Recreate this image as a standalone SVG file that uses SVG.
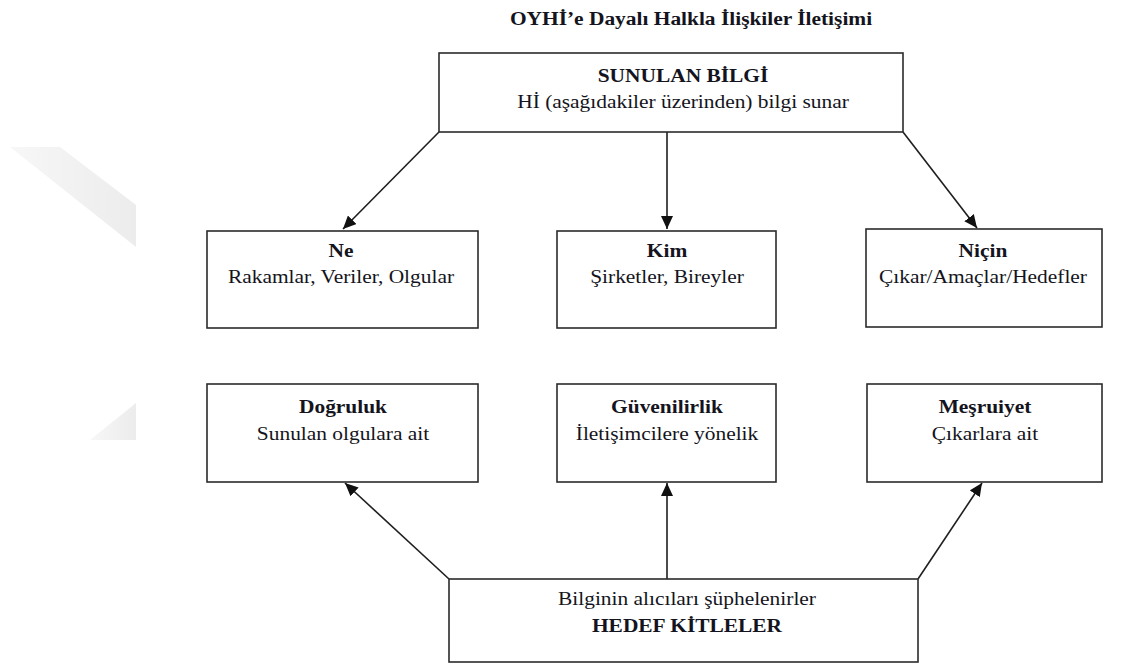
<svg xmlns="http://www.w3.org/2000/svg" width="1138" height="664" viewBox="0 0 1138 664">
  <style>
    .box { fill: #ffffff; stroke: #2b2b2b; stroke-width: 1.6; }
    .edge { stroke: #1e1e1e; stroke-width: 1.6; fill: none; marker-end: url(#arrow); }
    text { font-family: "Liberation Serif", Tinos, Times, "DejaVu Serif", serif; font-size: 18px; font-weight: normal; fill: #141420; text-anchor: middle; }
    text.b { font-weight: bold; }
  </style>
  <defs>
    <marker id="arrow" markerUnits="userSpaceOnUse" markerWidth="14" markerHeight="12" refX="13" refY="6" orient="auto">
      <path d="M0,0 L13,6 L0,12 z" fill="#111"/>
    </marker>
    <linearGradient id="mark" x1="0" y1="0" x2="1" y2="0">
      <stop offset="0" stop-color="#f7f7f7"/>
      <stop offset="1" stop-color="#ececec"/>
    </linearGradient>
  </defs>

  <!-- faint background emblem -->
  <g id="emblem" fill="url(#mark)">
    <polygon points="10,147 60,147 136,205 136,247"/>
    <polygon points="90,440 136,403 136,440"/>
  </g>

  <!-- title -->
  <g id="title" transform="translate(691,0) scale(1.19,1)">
    <text class="b" x="0" y="25">OYHİ’e Dayalı Halkla İlişkiler İletişimi</text>
  </g>

  <!-- connectors -->
  <g id="connectors">
    <line class="edge" x1="439" y1="132" x2="343" y2="229"/>
    <line class="edge" x1="667" y1="132" x2="667" y2="229"/>
    <line class="edge" x1="903" y1="132" x2="977" y2="228"/>
    <line class="edge" x1="449" y1="579" x2="345" y2="483"/>
    <line class="edge" x1="667" y1="579" x2="667" y2="483"/>
    <line class="edge" x1="918" y1="579" x2="982" y2="483"/>
  </g>

  <g id="sunulan-bilgi">
    <rect class="box" x="439" y="53" width="464" height="79"/>
    <g transform="translate(683,0) scale(1.19,1)">
      <text class="b" x="0" y="82">SUNULAN BİLGİ</text>
      <text x="0" y="108">Hİ (aşağıdakiler üzerinden) bilgi sunar</text>
    </g>
  </g>

  <g id="ne">
    <rect class="box" x="207" y="231" width="271" height="97"/>
    <g transform="translate(341,0) scale(1.19,1)">
      <text class="b" x="0" y="257">Ne</text>
      <text x="0" y="283">Rakamlar, Veriler, Olgular</text>
    </g>
  </g>

  <g id="kim">
    <rect class="box" x="557" y="231" width="219" height="97"/>
    <g transform="translate(667,0) scale(1.19,1)">
      <text class="b" x="0" y="257">Kim</text>
      <text x="0" y="283">Şirketler, Bireyler</text>
    </g>
  </g>

  <g id="nicin">
    <rect class="box" x="866" y="229" width="236" height="98"/>
    <g transform="translate(983,0) scale(1.19,1)">
      <text class="b" x="0" y="257">Niçin</text>
      <text x="0" y="283">Çıkar/Amaçlar/Hedefler</text>
    </g>
  </g>

  <g id="dogruluk">
    <rect class="box" x="207" y="384" width="271" height="98"/>
    <g transform="translate(343,0) scale(1.19,1)">
      <text class="b" x="0" y="413">Doğruluk</text>
      <text x="0" y="440">Sunulan olgulara ait</text>
    </g>
  </g>

  <g id="guvenilirlik">
    <rect class="box" x="557" y="384" width="219" height="98"/>
    <g transform="translate(667,0) scale(1.19,1)">
      <text class="b" x="0" y="413">Güvenilirlik</text>
      <text x="0" y="440">İletişimcilere yönelik</text>
    </g>
  </g>

  <g id="mesruiyet">
    <rect class="box" x="867" y="384" width="235" height="98"/>
    <g transform="translate(985,0) scale(1.19,1)">
      <text class="b" x="0" y="413">Meşruiyet</text>
      <text x="0" y="440">Çıkarlara ait</text>
    </g>
  </g>

  <g id="hedef-kitleler">
    <rect class="box" x="449" y="579" width="469" height="83"/>
    <g transform="translate(687,0) scale(1.19,1)">
      <text x="0" y="605">Bilginin alıcıları şüphelenirler</text>
      <text class="b" x="0" y="632">HEDEF KİTLELER</text>
    </g>
  </g>
</svg>
